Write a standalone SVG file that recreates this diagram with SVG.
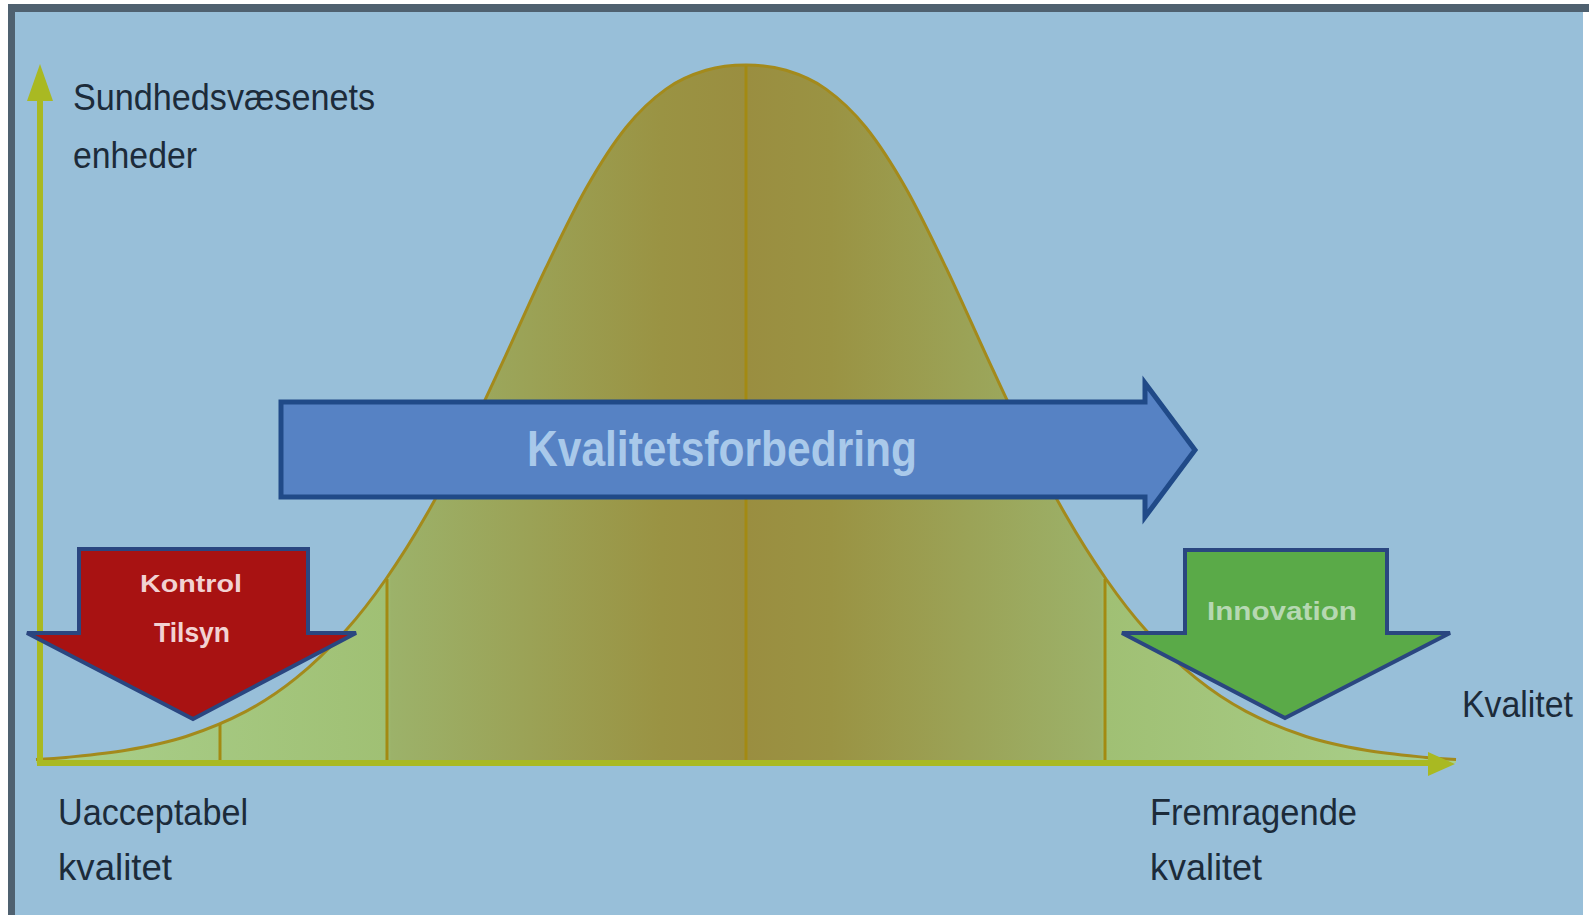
<svg xmlns="http://www.w3.org/2000/svg" width="1589" height="915" viewBox="0 0 1589 915">
<defs>
<style>
.lbl{font-family:"Liberation Sans","Noto Sans",sans-serif;font-size:36px;fill:#1c2b3a}
.inb{font-family:"Liberation Sans","Noto Sans",sans-serif;font-weight:bold}
.axis{stroke:#a9b922;stroke-width:6;fill:none}
.vline{stroke:#a38a12;stroke-width:3}
.curve{fill:none;stroke:#a38a1c;stroke-width:3;stroke-linejoin:round}
</style>
<linearGradient id="bellFill" gradientUnits="userSpaceOnUse" x1="746" y1="0" x2="1456" y2="0">
<stop offset="0" stop-color="#9a8e40"/>
<stop offset="0.12" stop-color="#9a9343"/>
<stop offset="0.5" stop-color="#9cb26a"/>
<stop offset="0.506" stop-color="#a0c074"/>
<stop offset="1" stop-color="#a9d08c"/>
</linearGradient>
<path id="halfFill" fill="url(#bellFill)" d="M746,763 L746,65 C759.3,65 772.7,66.3 786,70.3 C799.3,74.3 812.7,79.6 826,89.1 C839.3,98.6 852.7,110.9 866,127.5 C879.3,144.1 892.7,165.1 906,188.5 C919.3,211.9 932.7,240 946,267.7 C959.3,295.4 972.7,326.2 986,354.9 C999.3,383.6 1012.7,413 1026,439.8 C1039.3,466.6 1052.7,492.4 1066,515.6 C1079.3,538.8 1092.7,559.9 1106,579 C1119.3,598.1 1131,613.7 1146,630.2 C1161,646.7 1179.3,664.7 1196,678.2 C1212.7,691.7 1227.7,701.7 1246,711.4 C1264.3,721.1 1286,730 1306,736.5 C1326,743 1346,746.8 1366,750.3 C1386,753.8 1411,755.9 1426,757.4 C1441,758.9 1451,759.1 1456,759.4 L1456,763 Z"/>
<path id="halfCurve" class="curve" d="M746,65 C759.3,65 772.7,66.3 786,70.3 C799.3,74.3 812.7,79.6 826,89.1 C839.3,98.6 852.7,110.9 866,127.5 C879.3,144.1 892.7,165.1 906,188.5 C919.3,211.9 932.7,240 946,267.7 C959.3,295.4 972.7,326.2 986,354.9 C999.3,383.6 1012.7,413 1026,439.8 C1039.3,466.6 1052.7,492.4 1066,515.6 C1079.3,538.8 1092.7,559.9 1106,579 C1119.3,598.1 1131,613.7 1146,630.2 C1161,646.7 1179.3,664.7 1196,678.2 C1212.7,691.7 1227.7,701.7 1246,711.4 C1264.3,721.1 1286,730 1306,736.5 C1326,743 1346,746.8 1366,750.3 C1386,753.8 1411,755.9 1426,757.4 C1441,758.9 1451,759.1 1456,759.4"/>
</defs>
<rect x="0" y="0" width="1589" height="915" fill="#ffffff"/>
<rect x="8" y="4" width="1575" height="911" fill="#98bfd9"/>
<rect x="8" y="4" width="1581" height="8" fill="#4f6170"/>
<rect x="8" y="4" width="7" height="911" fill="#4f6170"/>

<g id="bell-curve">
<use href="#halfFill"/>
<use href="#halfFill" transform="translate(1492,0) scale(-1,1)"/>
<use href="#halfCurve"/>
<use href="#halfCurve" transform="translate(1492,0) scale(-1,1)"/>
<line class="vline" x1="220" y1="763" x2="220" y2="724"/>
<line class="vline" x1="387" y1="763" x2="387" y2="579"/>
<line class="vline" x1="746" y1="763" x2="746" y2="66" stroke="#9a7e10"/>
<line class="vline" x1="1105" y1="763" x2="1105" y2="579"/>
</g>

<g id="axes">
<line class="axis" x1="40" y1="766" x2="40" y2="92"/>
<polygon points="40,64 27,101 53,101" fill="#a9b922"/>
<line class="axis" x1="37" y1="763" x2="1432" y2="763"/>
<polygon points="1455,764 1428,752 1428,776" fill="#a9b922"/>
</g>

<g id="kvalitetsforbedring">
<path d="M281,402 L1145,402 L1145,383 L1195,450 L1145,517 L1145,497 L281,497 Z" fill="#5682c4" stroke="#204a88" stroke-width="5" stroke-linejoin="miter"/>
<text class="inb" x="722" y="466" font-size="50" fill="#a9c9ea" text-anchor="middle" textLength="390" lengthAdjust="spacingAndGlyphs">Kvalitetsforbedring</text>
</g>

<g id="kontrol-tilsyn">
<path d="M79,549 L308,549 L308,633 L356,633 L193,719 L27,633 L79,633 Z" fill="#a81212" stroke="#2a4680" stroke-width="4" stroke-linejoin="miter"/>
<text class="inb" x="191" y="592" font-size="24" fill="#f2d2d2" text-anchor="middle" textLength="102" lengthAdjust="spacingAndGlyphs">Kontrol</text>
<text class="inb" x="192" y="642" font-size="28" fill="#f2d2d2" text-anchor="middle" textLength="76" lengthAdjust="spacingAndGlyphs">Tilsyn</text>
</g>

<g id="innovation">
<path d="M1185,550 L1387,550 L1387,633 L1450,633 L1285,718 L1122,633 L1185,633 Z" fill="#5aaa48" stroke="#2a4680" stroke-width="4" stroke-linejoin="miter"/>
<text class="inb" x="1282" y="620" font-size="26" fill="#b6d8b2" text-anchor="middle" textLength="150" lengthAdjust="spacingAndGlyphs">Innovation</text>
</g>

<g id="y-label">
<text class="lbl" x="73" y="110" textLength="302" lengthAdjust="spacingAndGlyphs">Sundhedsvæsenets</text>
<text class="lbl" x="73" y="168" textLength="124" lengthAdjust="spacingAndGlyphs">enheder</text>
</g>
<g id="x-label">
<text class="lbl" x="1462" y="717" textLength="111" lengthAdjust="spacingAndGlyphs">Kvalitet</text>
</g>
<g id="low-label">
<text class="lbl" x="58" y="825" textLength="190" lengthAdjust="spacingAndGlyphs">Uacceptabel</text>
<text class="lbl" x="58" y="880" textLength="114" lengthAdjust="spacingAndGlyphs">kvalitet</text>
</g>
<g id="high-label">
<text class="lbl" x="1150" y="825" textLength="207" lengthAdjust="spacingAndGlyphs">Fremragende</text>
<text class="lbl" x="1150" y="880" textLength="112" lengthAdjust="spacingAndGlyphs">kvalitet</text>
</g>
</svg>
